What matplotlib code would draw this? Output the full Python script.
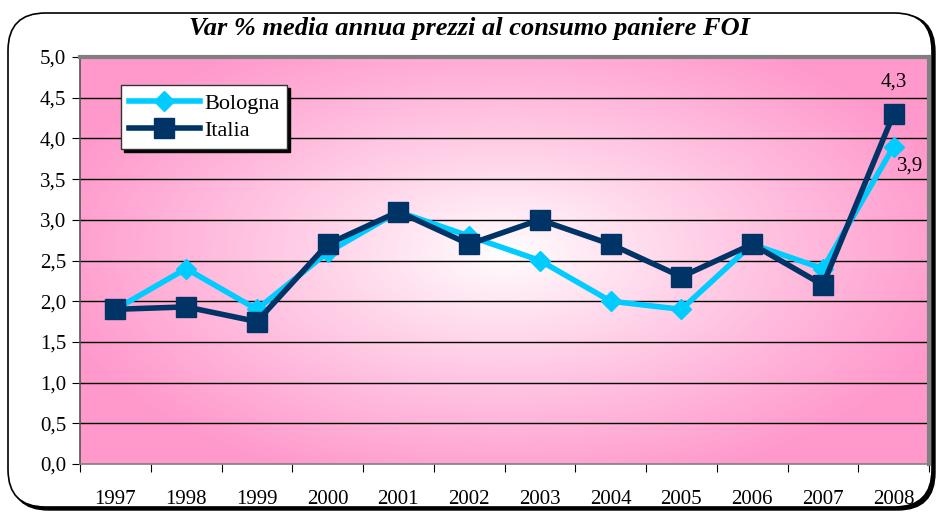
import matplotlib.pyplot as plt
import numpy as np
from matplotlib.patches import FancyBboxPatch

anni = ['1997', '1998', '1999', '2000', '2001', '2002', '2003', '2004', '2005', '2006', '2007', '2008']
bologna = [1.9, 2.4, 1.9, 2.6, 3.1, 2.8, 2.5, 2.0, 1.9, 2.7, 2.4, 3.9]
italia = [1.9, 1.93, 1.75, 2.7, 3.1, 2.7, 3.0, 2.7, 2.3, 2.7, 2.2, 4.3]
yticks = [0.0, 0.5, 1.0, 1.5, 2.0, 2.5, 3.0, 3.5, 4.0, 4.5, 5.0]

plt.rcParams['font.family'] = ['Liberation Serif', 'DejaVu Serif']

fig = plt.figure(figsize=(9.38, 5.16), dpi=100)
W, H = 938, 516

# cornice arrotondata con ombra
shadow = FancyBboxPatch((11 / W, 6 / H), 924 / W, 496 / H, boxstyle='round,pad=0,rounding_size=0.04',
                        transform=fig.transFigure, facecolor='black', edgecolor='black', zorder=0,
                        mutation_aspect=W / H)
frame = FancyBboxPatch((8 / W, 9 / H), 924 / W, 494 / H, boxstyle='round,pad=0,rounding_size=0.04',
                       transform=fig.transFigure, facecolor='white', edgecolor='black', lw=1.2, zorder=1,
                       mutation_aspect=W / H)
fig.patches.extend([shadow, frame])

ax = fig.add_axes([80 / W, (H - 464) / H, 849 / W, 407 / H])
ax.set_zorder(2)

x = np.arange(len(anni))

# sfondo sfumato radiale
gx, gy = np.meshgrid(np.linspace(0, 1, 400), np.linspace(0, 1, 300))
r = np.sqrt(((gx - 0.5) / 0.55) ** 2 + ((gy - 0.52) / 0.6) ** 2)
t = np.clip(r, 0, 1) ** 0.9
c0 = np.array([1.0, 1.0, 1.0])
c1 = np.array([1.0, 0.6, 0.8])
img = c0 + (c1 - c0) * t[..., None]
ax.imshow(img, extent=[-0.5, 11.5, 0, 5], aspect='auto', origin='lower', zorder=0)

for yv in yticks[1:-1]:
    ax.axhline(yv, color='black', lw=1.0, zorder=1)

ax.plot(x, bologna, color='#00CCFF', lw=4, marker='D', markersize=10, label='Bologna', zorder=3)
ax.plot(x, italia, color='#003366', lw=4, marker='s', markersize=15, label='Italia', zorder=4)

ax.annotate('4,3', (x[-1], italia[-1]), xytext=(0, 16), textcoords='offset points',
            ha='center', va='bottom', fontsize=15)
ax.annotate('3,9', (x[-1], bologna[-1]), xytext=(12, -14), textcoords='offset points',
            ha='center', va='center', fontsize=15)

ax.set_xlim(-0.5, 11.5)
ax.set_ylim(0, 5)
ax.set_yticks(yticks)
ax.set_yticklabels([f'{v:.1f}'.replace('.', ',') for v in yticks], fontsize=15)
ax.set_xticks(np.arange(-0.5, 12, 1))
ax.set_xticklabels([])
ax.set_xticks(x, minor=True)
ax.set_xticklabels(anni, minor=True, fontsize=15)
ax.tick_params(axis='x', which='minor', length=0, pad=19)
ax.tick_params(axis='x', which='major', length=6, direction='out')
ax.tick_params(axis='y', length=6, direction='out', pad=4)

for s in ['top', 'right']:
    ax.spines[s].set_color('#808080')
    ax.spines[s].set_linewidth(3)
ax.spines['left'].set_color('#555555')
ax.spines['bottom'].set_color('#808080')
ax.spines['left'].set_linewidth(1.2)
ax.spines['bottom'].set_linewidth(1.2)

leg = ax.legend(loc='upper left', bbox_to_anchor=(0.048, 0.93), borderaxespad=0, fontsize=16,
                frameon=True, fancybox=False, shadow={'color': 'black', 'alpha': 1}, handlelength=3.2,
                handletextpad=0.2, borderpad=0.35, labelspacing=0.3)
leg.get_frame().set_edgecolor('#333333')
leg.get_frame().set_facecolor('white')

fig.text(0.5, (H - 28) / H, 'Var % media annua prezzi al consumo paniere FOI', ha='center', va='center',
         fontsize=19, fontweight='bold', style='italic')

plt.savefig('out.png', dpi=100)
plt.close()
